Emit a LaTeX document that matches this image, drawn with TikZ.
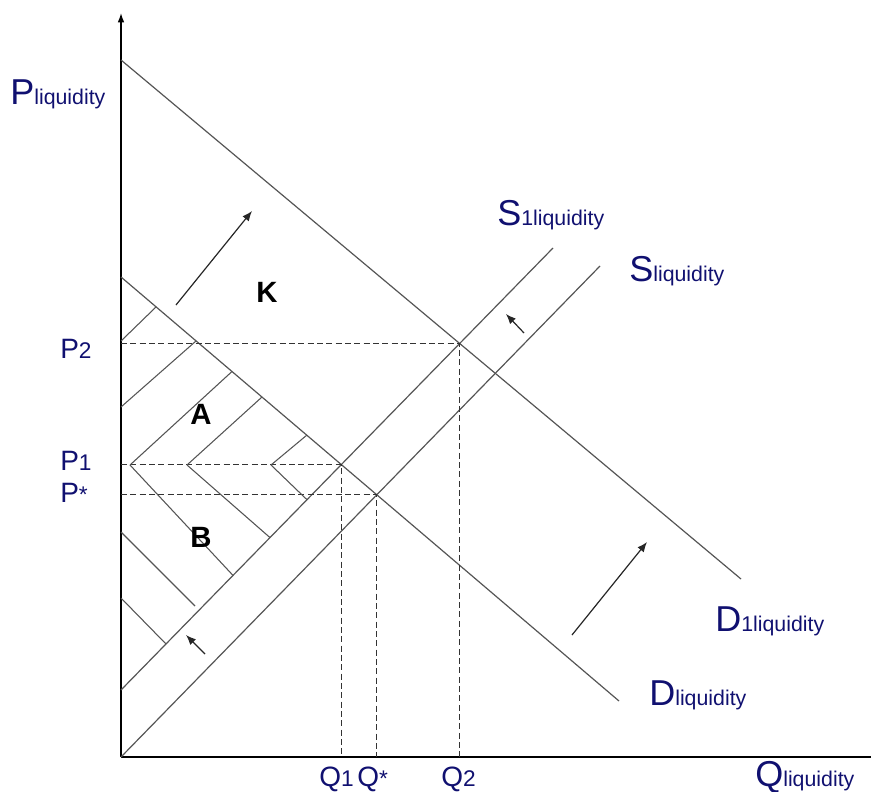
\documentclass[tikz,border=0pt]{standalone}
\usepackage{fontspec}
\setmainfont{Liberation Sans}
\usetikzlibrary{arrows.meta}
\definecolor{navy}{RGB}{16,16,112}
\definecolor{ln}{RGB}{85,85,85}
\newcommand{\axlbl}[2]{{\fontsize{27}{27}\selectfont #1}{\fontsize{16}{16}\selectfont #2}}
\newcommand{\tcklbl}[2]{{\fontsize{21}{21}\selectfont #1}{\fontsize{17}{17}\selectfont #2}}
\begin{document}
\begin{tikzpicture}[x=0.75pt,y=-0.75pt,
  dcurve/.style={draw=ln, line width=0.9pt},
  hatchline/.style={draw=ln, line width=0.8pt},
  guideline/.style={draw=black!80, line width=0.8pt, dash pattern=on 4.5pt off 2.5pt},
  axisline/.style={draw=black, line width=1pt},
  movearrow/.style={draw=black!85, line width=0.9pt, -{Latex[length=7.5pt,width=6pt]}},
  lbl/.style={text=navy, inner sep=0pt, anchor=base west},
  reg/.style={font=\fontsize{22}{22}\selectfont\bfseries, inner sep=0pt}]
\useasboundingbox (0,0) rectangle (871,792);
% axes
\coordinate (O) at (121,757);
\coordinate (Ytop) at (121,13);
\coordinate (Xend) at (871,757);
\draw[axisline,-{Latex[length=7pt,width=5pt]}] (O) -- (Ytop);
\draw[axisline] (O) -- (Xend);
% curves
\coordinate (D1a) at (121,60);  \coordinate (D1b) at (741,579);
\coordinate (Da) at (121,277);  \coordinate (Db) at (619,701);
\coordinate (S1a) at (121,690); \coordinate (S1b) at (553,248);
\coordinate (Sb) at (600,266);
\draw[dcurve] (D1a) -- (D1b);
\draw[dcurve] (Da) -- (Db);
\draw[dcurve] (S1a) -- (S1b);
\draw[dcurve] (O) -- (Sb);
% equilibria
\coordinate (E2) at (intersection of D1a--D1b and S1a--S1b);
\coordinate (E1) at (intersection of Da--Db and S1a--S1b);
\coordinate (E0) at (intersection of Da--Db and O--Sb);
\draw[guideline] (O |- E2) -- (E2) -- (O -| E2);
\draw[guideline] (O |- E1) -- (E1) -- (O -| E1);
\draw[guideline] (O |- E0) -- (E0) -- (O -| E0);
% hatching
\coordinate (h1) at (130,465); \coordinate (h2) at (187,465); \coordinate (h3) at (271,465);
\draw[hatchline] (121,341) -- (156,307);
\draw[hatchline] (121,407) -- (196,341);
\draw[hatchline] (h1) -- (232,371.5);
\draw[hatchline] (h2) -- (262,397);
\draw[hatchline] (h3) -- (307,435);
\draw[hatchline] (h1) -- (233,575.4);
\draw[hatchline] (h2) -- (270,537.6);
\draw[hatchline] (h3) -- (307,499.7);
\draw[hatchline] (121,532) -- (195,606);
\draw[hatchline] (121,598) -- (166,644);
% shift arrows
\coordinate (k0) at (176,305); \coordinate (k1) at (252,211);
\coordinate (s0) at (524,333); \coordinate (s1) at (506,314);
\coordinate (b0) at (205,654); \coordinate (b1) at (186,635);
\coordinate (d0) at (572,635); \coordinate (d1) at (647,542);
\draw[movearrow] (k0) -- (k1);
\draw[movearrow] (s0) -- (s1);
\draw[movearrow] (b0) -- (b1);
\draw[movearrow] (d0) -- (d1);
% region labels
\node[reg] (K) at (267,292) {K};
\node[reg] (A) at (201,414) {A};
\node[reg] (B) at (201,537) {B};
% axis labels
\node[lbl] (Pl) at (10,104) {\axlbl{P}{liquidity}};
\node[lbl] (Ql) at (755,786) {\axlbl{Q}{liquidity}};
\node[lbl] (S1l) at (497,225) {\axlbl{S}{1liquidity}};
\node[lbl] (Sl) at (629,281) {\axlbl{S}{liquidity}};
\node[lbl] (D1l) at (715,631) {\axlbl{D}{1liquidity}};
\node[lbl] (Dl) at (649,705) {\axlbl{D}{liquidity}};
% tick labels
\node[lbl] (P2) at (60,358) {\tcklbl{P}{2}};
\node[lbl] (P1) at (60,470) {\tcklbl{P}{1}};
\node[lbl] (Ps) at (60,502) {\tcklbl{P}{*}};
\node[lbl] (Q1) at (319,786) {\tcklbl{Q}{1}};
\node[lbl] (Qs) at (357,786) {\tcklbl{Q}{*}};
\node[lbl] (Q2) at (441,786) {\tcklbl{Q}{2}};
\end{tikzpicture}
\end{document}
